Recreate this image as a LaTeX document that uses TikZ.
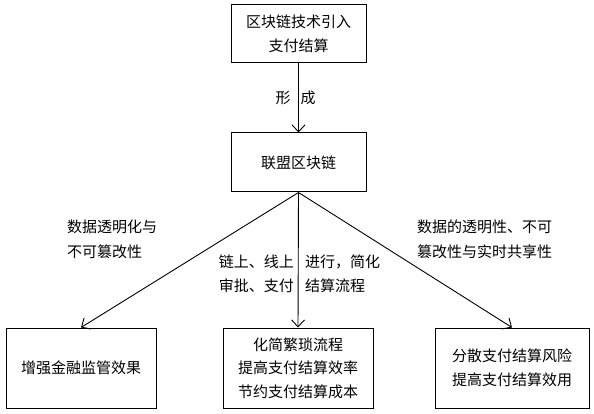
\documentclass[tikz,border=0pt]{standalone}
\usepackage{fontspec}
\setmainfont{Noto Sans CJK SC}
\usetikzlibrary{arrows.meta}
\begin{document}
\begin{tikzpicture}[x=1pt,y=-1pt,
  box/.style={draw, line width=1pt, align=center, inner sep=0pt,
    font=\fontsize{15}{23.5}\selectfont},
  lbl/.style={inner sep=0pt, font=\fontsize{15}{24.5}\selectfont},
  conn/.style={line width=0.9pt, -{Straight Barb[length=7pt,width=13pt]}}]
\useasboundingbox (0,0) rectangle (594,414);
\node[box, minimum width=135pt, minimum height=58pt] (top) at (298.5,34) {区块链技术引入\\支付结算};
\node[box, minimum width=135pt, minimum height=59pt] (mid) at (298.5,162.5) {联盟区块链};
\node[box, minimum width=150pt, minimum height=80pt] (left) at (81,368) {增强金融监管效果};
\node[box, minimum width=150pt, minimum height=80pt] (center) at (298,368) {化简繁琐流程\\提高支付结算效率\\节约支付结算成本};
\node[box, minimum width=154pt, minimum height=80pt] (right) at (512,368) {分散支付结算风险\\提高支付结算效用};
\draw[conn] (top) -- (mid);
\draw[conn] (mid.south) -- (left.north);
\draw[conn] (mid.south) -- (center.north);
\draw[conn] (mid.south) -- (right.north);
\node[lbl] (xing) at (283,98) {形};
\node[lbl] (cheng) at (308,98) {成};
\node[lbl, anchor=west, align=left] (l1) at (67,239.5) {数据透明化与\\不可篡改性};
\node[lbl, anchor=west, align=left] (r1) at (417,239.5) {数据的透明性、不可\\篡改性与实时共享性};
\node[lbl, anchor=east, align=right] (c1) at (294,274) {链上、线上\\审批、支付};
\node[lbl, anchor=west, align=left] (c2) at (305,274) {进行，简化\\结算流程};
\end{tikzpicture}
\end{document}
